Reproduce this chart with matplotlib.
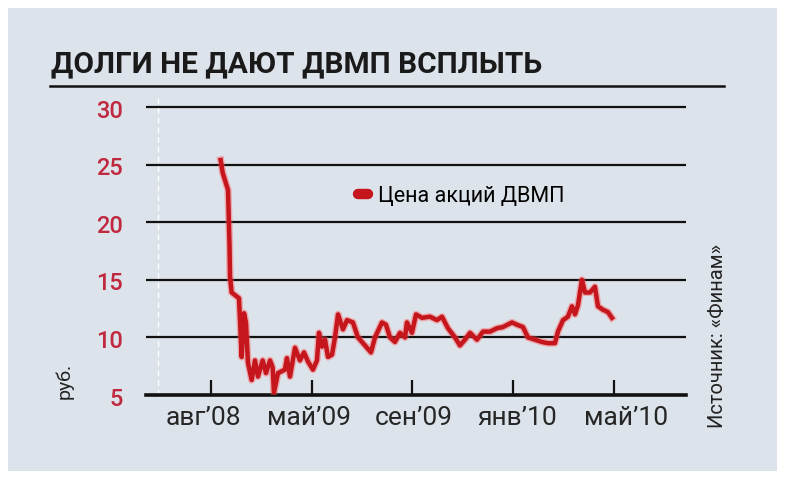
import matplotlib
matplotlib.use("Agg")
import matplotlib.pyplot as plt
import matplotlib.patheffects as pe
import matplotlib.transforms as mtransforms
from matplotlib.lines import Line2D
from matplotlib.patches import Rectangle

# positions along the x axis in tick units (0 = авг'08 ... 4 = май'10)
x_pos = [0.096, 0.116, 0.169, 0.184, 0.189, 0.205, 0.278, 0.305, 0.328, 0.347,
         0.367, 0.404, 0.437, 0.466, 0.513, 0.546, 0.586, 0.612, 0.625, 0.665,
         0.734, 0.754, 0.784, 0.834, 0.883, 0.923, 0.963, 1.012, 1.052, 1.072,
         1.102, 1.132, 1.161, 1.201, 1.231, 1.261, 1.310, 1.350, 1.409, 1.459,
         1.529, 1.588, 1.628, 1.697, 1.737, 1.777, 1.826, 1.876, 1.926, 1.945,
         1.995, 2.035, 2.094, 2.174, 2.243, 2.293, 2.352, 2.422, 2.471, 2.521,
         2.571, 2.640, 2.700, 2.769, 2.839, 2.898, 2.988, 3.037, 3.097, 3.146,
         3.216, 3.285, 3.345, 3.414, 3.444, 3.494, 3.543, 3.583, 3.613, 3.643,
         3.682, 3.712, 3.762, 3.811, 3.841, 3.891, 3.940, 3.980]
price = [25.4, 24.3, 22.8, 18.0, 15.3, 13.9, 13.4, 8.3, 12.1, 11.3,
         7.8, 6.3, 8.0, 6.6, 8.0, 6.9, 8.0, 7.4, 5.2, 6.9,
         7.2, 8.2, 6.6, 9.1, 8.0, 8.7, 7.9, 7.2, 8.0, 10.4,
         9.2, 9.8, 8.3, 8.5, 10.0, 12.0, 10.7, 11.5, 11.3, 10.0,
         9.3, 8.7, 10.0, 11.3, 11.1, 10.0, 9.6, 10.4, 10.0, 11.3,
         10.4, 12.0, 11.7, 11.8, 11.5, 11.8, 10.8, 10.0, 9.3, 9.8,
         10.4, 9.8, 10.5, 10.5, 10.8, 10.9, 11.3, 11.1, 10.9, 10.0,
         9.8, 9.6, 9.5, 9.5, 10.5, 11.5, 11.8, 12.7, 12.0, 12.8,
         15.0, 13.9, 13.9, 14.4, 12.7, 12.4, 12.2, 11.7]

tick_labels = ["авг\u201908", "май\u201909", "сен\u201909", "янв\u201910", "май\u201910"]
tick_pos = [0, 1, 2, 3, 4]
# the printed labels sit a little off their tick marks in the original
label_pos = [-0.079, 0.973, 2.015, 3.037, 4.119]
y_ticks = [5, 10, 15, 20, 25, 30]

title = "ДОЛГИ НЕ ДАЮТ ДВМП ВСПЛЫТЬ"
series_name = "Цена акций ДВМП"
source = "Источник: «Финам»"

RED = "#c4161c"
LABEL_RED = "#c0283f"
PANEL = "#dde3ea"
W, H = 788, 480

fig = plt.figure(figsize=(W / 100, H / 100), dpi=100, facecolor="white")
fig.patches.append(Rectangle((8 / W, 1 - 471 / H), 769 / W, 463 / H,
                             transform=fig.transFigure, facecolor=PANEL,
                             edgecolor="none", zorder=-10))

ax = fig.add_axes([146 / W, 1 - 395 / H, 540 / W, 299.5 / H])
ax.set_facecolor("none")
ax.set_xlim(-0.645, 4.715)
ax.set_ylim(5, 31)

# white dashed guide on the left
ax.axvline(-0.526, color="white", lw=1.0, ls=(0, (4, 3)), zorder=1)
for v in y_ticks[1:]:
    ax.axhline(v, color="#111111", lw=1.6, zorder=2)

line, = ax.plot(x_pos, price, color=RED, lw=3.2, solid_joinstyle="round", zorder=4)
line.set_path_effects([pe.Stroke(linewidth=5.2, foreground="#ff5050", alpha=0.4),
                       pe.Normal()])

for s in ["left", "top", "right"]:
    ax.spines[s].set_visible(False)
ax.spines["bottom"].set_linewidth(2.6)
ax.spines["bottom"].set_color("#111111")

ax.set_xticks(tick_pos)
ax.set_xticklabels([])
ax.tick_params(axis="x", which="major", direction="in", length=11, width=1.6,
               color="#111111")
ax.set_xticks(label_pos, minor=True)
ax.set_xticklabels(tick_labels, minor=True, fontsize=19, family="Roboto",
                   color="#262626")
ax.tick_params(axis="x", which="minor", length=0, pad=8)

ax.set_yticks([])
shift = mtransforms.ScaledTranslation(0, -4 / 100, fig.dpi_scale_trans)
for v in y_ticks:
    ax.text(-23 / 540, v, str(v), transform=ax.get_yaxis_transform() + shift,
            ha="right", va="center", fontsize=17, family="Roboto",
            fontweight="medium", color=LABEL_RED)

handle = Line2D([], [], color=RED, lw=7.5, solid_capstyle="round")
ax.legend([handle], [series_name], loc="center left",
          bbox_to_anchor=(0.392, 0.664), frameon=False, handlelength=0.5,
          handletextpad=0.45, borderpad=0, borderaxespad=0,
          prop={"family": "Roboto", "size": 15.5})

fig.text(51 / W, 1 - 64 / H, title, fontsize=21.5, fontweight="bold",
         family="Roboto", color="#1a1a1a", ha="left", va="center")
fig.add_artist(Line2D([50 / W, 724 / W], [1 - 86 / H, 1 - 86 / H],
                      transform=fig.transFigure, color="#111111", lw=1.8))

fig.text(64 / W, 1 - 381 / H, "руб.", rotation=90, fontsize=14, family="Roboto",
         color="#222222", ha="center", va="center")
fig.text(717 / W, 1 - 336 / H, source, rotation=90, fontsize=14.5, family="Roboto",
         color="#222222", ha="center", va="center")

fig.savefig("out.png", dpi=100, facecolor="white")
